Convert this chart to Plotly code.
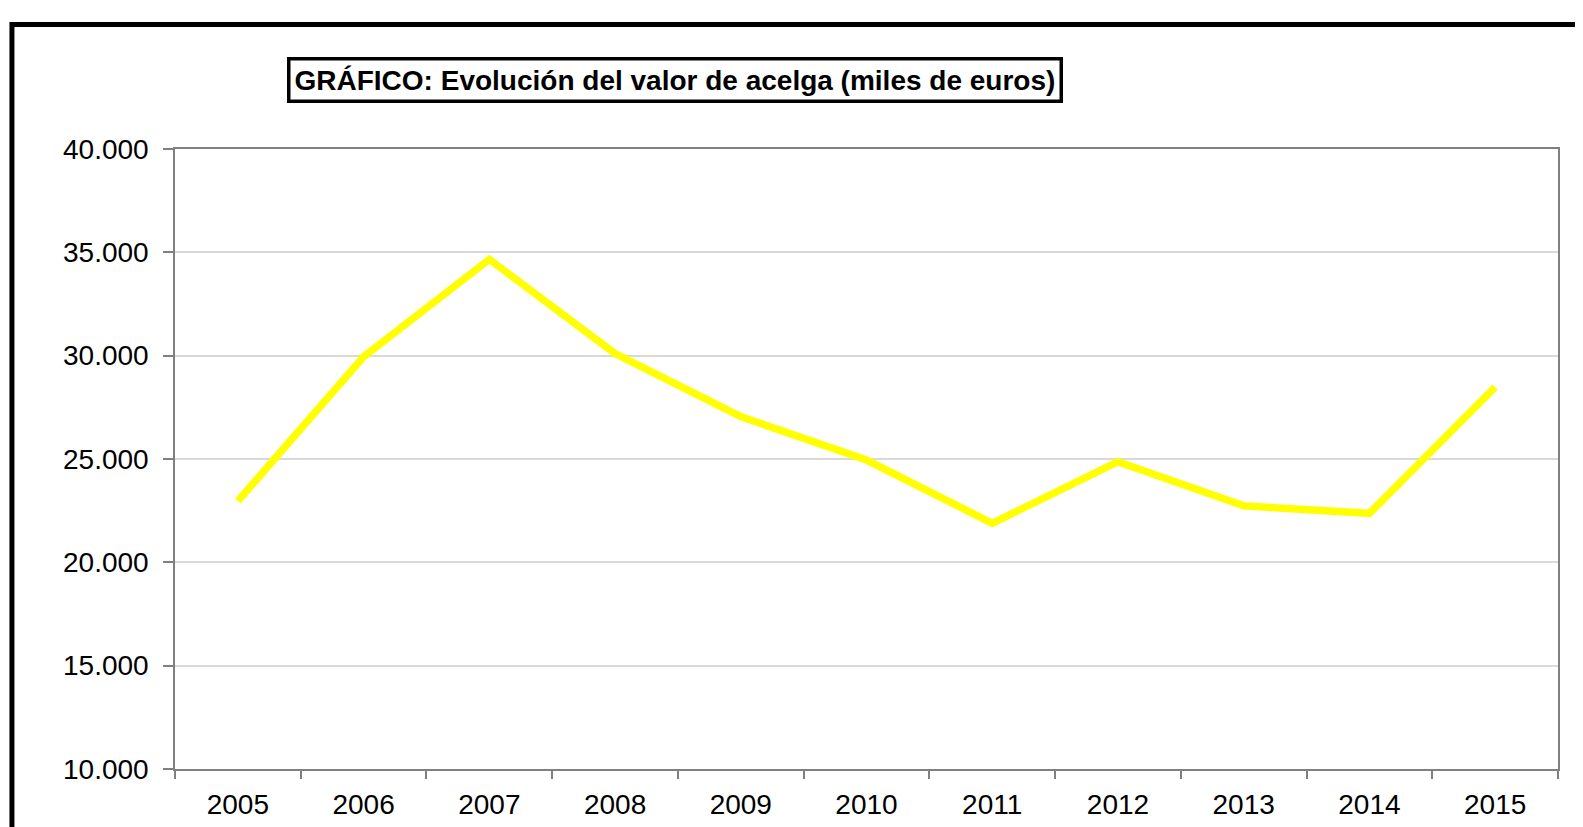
import plotly.graph_objects as go

# data
years = ["2005", "2006", "2007", "2008", "2009", "2010",
         "2011", "2012", "2013", "2014", "2015"]
valor = [22970, 29950, 34660, 30100, 27050, 24950,
         21890, 24870, 22730, 22370, 28480]
y_ticks = [10000, 15000, 20000, 25000, 30000, 35000, 40000]

title_text = "<b>GRÁFICO: Evolución del valor de acelga (miles de euros)</b>"

fig = go.Figure()

fig.add_trace(
    go.Scatter(
        x=years,
        y=valor,
        mode="lines",
        line=dict(color="#FFFF00", width=7.5),
        showlegend=False,
        hoverinfo="x+y",
    )
)

axis_col = "#808080"

# the page body adds an 8px offset, margins account for it
fig.update_layout(
    width=1583,
    height=827,
    margin=dict(l=167, r=33, t=141, b=66),
    paper_bgcolor="white",
    plot_bgcolor="white",
    font=dict(family="Liberation Sans, Arial, sans-serif", size=28, color="black"),
    separators=",.",
    showlegend=False,
)

fig.update_xaxes(
    type="category",
    range=[-0.5, 10.5],
    tickson="boundaries",
    ticks="outside",
    ticklen=8,
    tickcolor=axis_col,
    tickwidth=1.5,
    ticklabelstandoff=10,
    showline=True,
    linecolor=axis_col,
    linewidth=1.5,
    mirror=True,
    showgrid=False,
    tickfont=dict(size=28),
)

fig.update_yaxes(
    range=[10000, 40000],
    tickvals=y_ticks,
    tickformat=",d",
    ticks="outside",
    ticklen=10,
    tickcolor=axis_col,
    tickwidth=1.5,
    ticklabelstandoff=9,
    showline=True,
    linecolor=axis_col,
    linewidth=1.5,
    mirror=True,
    showgrid=True,
    gridcolor="#d9d9d9",
    gridwidth=1.5,
    zeroline=False,
    tickfont=dict(size=28),
)

# title box
fig.add_annotation(
    text=title_text,
    xref="paper",
    yref="paper",
    x=0.3612,
    y=1.1113,
    xanchor="center",
    yanchor="middle",
    showarrow=False,
    font=dict(size=28, color="black"),
    bordercolor="black",
    borderwidth=3.5,
    borderpad=4,
    bgcolor="white",
)

# outer black frame (runs past the right and bottom edges)
fig.add_shape(
    type="rect",
    xref="paper",
    yref="paper",
    x0=-0.1179,
    x1=1.2,
    y0=-0.5,
    y1=1.2008,
    line=dict(color="black", width=5),
    fillcolor="rgba(0,0,0,0)",
    layer="below",
)

fig.write_html("out.html")
